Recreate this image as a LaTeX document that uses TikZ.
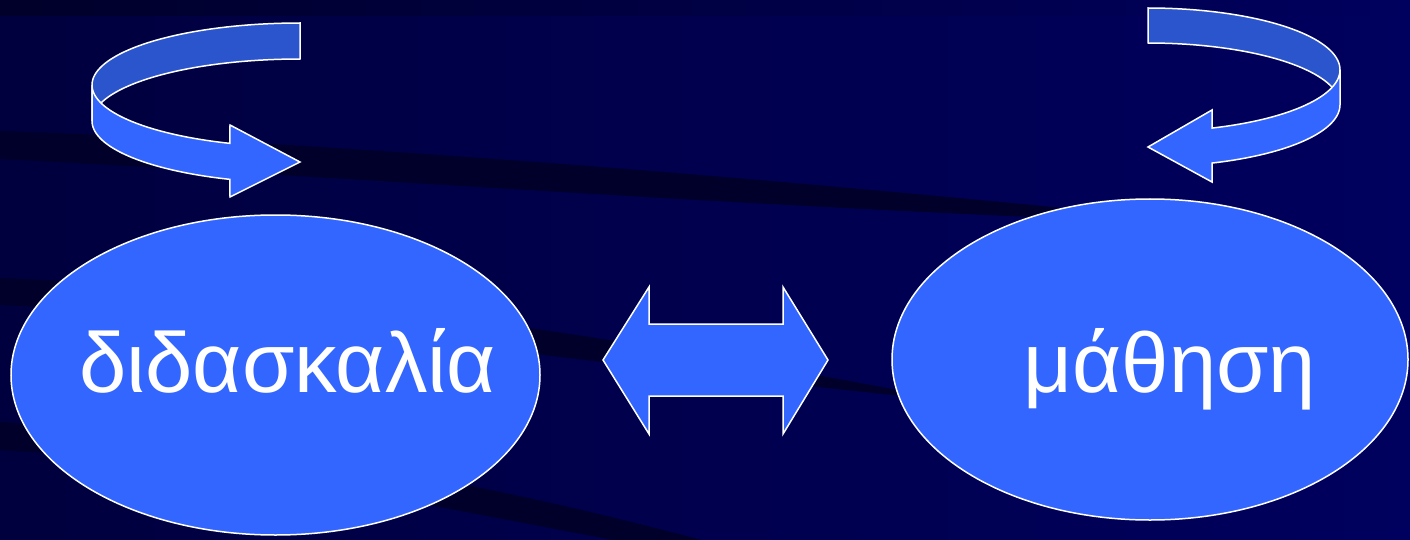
\documentclass[tikz,border=0pt]{standalone}
\usepackage{fontspec}
\setmainfont{Liberation Sans}
\usetikzlibrary{shapes.geometric}
\definecolor{bgleft}{HTML}{00003E}
\definecolor{bgright}{HTML}{00005E}
\definecolor{streak}{HTML}{00002A}
\definecolor{blob}{HTML}{3366FF}
\definecolor{backband}{HTML}{2B55CC}

\begin{document}
\begin{tikzpicture}[x=1pt, y=-1pt,
  oval/.style={ellipse, draw=white, line width=1.5pt, fill=blob, inner sep=0pt},
  word/.style={text=white, font=\fontsize{85}{100}\selectfont, anchor=base, inner sep=0pt},
  front/.style={draw=white, line width=1.5pt, fill=blob},
  back/.style={draw=white, line width=1.5pt, fill=backband}]
  \useasboundingbox (0,0) rectangle (1410,540);
  % background and dark streaks
  \fill[left color=bgleft, right color=bgright] (0,0) rectangle (1410,540);
  \fill[left color=streak, right color=bgright] (0,0) rectangle (1410,16);
  \fill[streak] (0,131) .. controls (350,143) and (820,182) .. (1220,224)
    .. controls (820,212) and (350,177) .. (0,159) -- cycle;
  \fill[streak] (0,278) .. controls (300,290) and (600,332) .. (960,402)
    .. controls (600,366) and (300,318) .. (0,305) -- cycle;
  \fill[streak] (0,422) .. controls (250,440) and (480,480) .. (720,545)
    -- (640,545) .. controls (450,510) and (250,465) .. (0,450) -- cycle;

  \node[oval, minimum width=529pt, minimum height=320pt] (teach) at (275.5,375) {};
  \node[oval, minimum width=516pt, minimum height=321pt] (learn) at (1150,359.5) {};
  \node[word] (teachtxt) at (287.5,392) {διδασκαλία};
  \node[word] (learntxt) at (1170,392) {μάθηση};

  % double arrow between them
  \coordinate (mid) at (715.5,360);
  \draw[front, shift={(mid)}] (-112.5,0) -- (-66.5,-73) -- (-66.5,-36) -- (67.5,-36)
    -- (67.5,-73) -- (112.5,0) -- (67.5,74) -- (67.5,36) -- (-66.5,36) -- (-66.5,74) -- cycle;

  % turning arrow over teach
  \draw[back] (300,23) -- plot[domain=90:180, samples=40] ({300+208*cos(\x)}, {85-62*sin(\x)})
    -- plot[domain=180:90, samples=40] ({300+208*cos(\x)}, {121-62*sin(\x)}) -- cycle;
  \draw[front] (92,85) -- plot[domain=180:250.3, samples=40] ({300+208*cos(\x)}, {85-62*sin(\x)})
    -- (230,125) -- (300,162) -- (230,197)
    -- plot[domain=250.3:180, samples=40] ({300+208*cos(\x)}, {121-62*sin(\x)}) -- cycle;

  % turning arrow over learn
  \draw[back] (1148,8) -- plot[domain=90:0, samples=40] ({1148+192*cos(\x)}, {69.8-61.8*sin(\x)})
    -- plot[domain=0:90, samples=40] ({1148+192*cos(\x)}, {104.8-61.8*sin(\x)}) -- cycle;
  \draw[front] (1340,69.8) -- plot[domain=0:-70.5, samples=40] ({1148+192*cos(\x)}, {69.8-61.8*sin(\x)})
    -- (1212,110) -- (1148,147) -- (1212,182)
    -- plot[domain=-70.5:0, samples=40] ({1148+192*cos(\x)}, {104.8-61.8*sin(\x)}) -- cycle;
\end{tikzpicture}
\end{document}
